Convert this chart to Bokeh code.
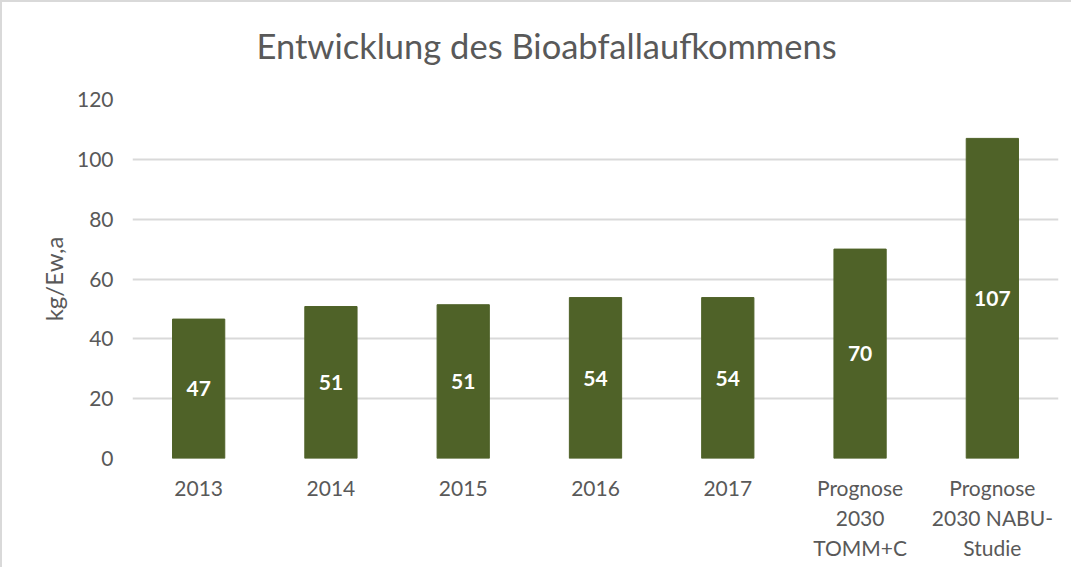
from bokeh.plotting import figure
from bokeh.models import ColumnDataSource, Range1d, Title
from bokeh.core.properties import value
from bokeh.embed import file_html
from bokeh.resources import INLINE

title_text = "Entwicklung des Bioabfallaufkommens"
categories = ["2013", "2014", "2015", "2016", "2017",
              "Prognose\n2030\nTOMM+C", "Prognose\n2030 NABU-\nStudie"]
values = [46.6, 50.8, 51.4, 53.8, 53.8, 70.0, 107.0]
labels = [str(round(v)) for v in values]
y_ticks = [0, 20, 40, 60, 80, 100, 120]

TXT = "#595959"
FONT = "Lato"
BAR = "#4F6228"

src = ColumnDataSource(dict(cat=categories, val=values,
                            mid=[v / 2 for v in values], lab=labels))

p = figure(x_range=categories, y_range=Range1d(0, 120),
           width=1071, height=567, output_backend="svg", toolbar_location=None,
           min_border_left=130, min_border_right=15,
           min_border_top=97, min_border_bottom=111)

p.styles = {"border-top": "2px solid #d9d9d9", "border-left": "2px solid #d9d9d9"}

# spacer between title and plot area (inner), then the real title (outer)
p.add_layout(Title(text=" ", text_font_size="10px", standoff=21), "above")
p.add_layout(Title(text=title_text, text_font=FONT, text_font_size="34.5px",
                   text_font_style="normal", text_color=TXT,
                   align="left", offset=124, standoff=0), "above")

p.vbar(x="cat", top="val", width=0.395, source=src, color=BAR, line_color=BAR)
p.text(x="cat", y="mid", text="lab", source=src, text_color="white",
       text_font=value(FONT), text_font_style="bold", text_font_size="21px",
       text_align="center", text_baseline="middle")

p.outline_line_color = None
p.background_fill_color = "white"
p.border_fill_color = "white"
p.xgrid.grid_line_color = None
p.ygrid.grid_line_color = "#d9d9d9"
p.ygrid.grid_line_width = 2

p.yaxis.ticker = y_ticks
p.yaxis.axis_label = "kg/Ew,a"
p.yaxis.axis_label_text_font = FONT
p.yaxis.axis_label_text_font_style = "normal"
p.yaxis.axis_label_text_font_size = "24px"
p.yaxis.axis_label_text_color = TXT
p.yaxis.axis_label_standoff = 6
p.yaxis.major_label_standoff = 13

for ax in (p.xaxis, p.yaxis):
    ax.axis_line_color = None
    ax.major_tick_line_color = None
    ax.minor_tick_line_color = None
    ax.major_label_text_font = FONT
    ax.major_label_text_font_size = "21px"
    ax.major_label_text_color = TXT

p.xaxis.major_label_standoff = 10
p.xaxis.group_text_font_size = "21px"

open("out.html", "w").write(file_html(p, INLINE))
